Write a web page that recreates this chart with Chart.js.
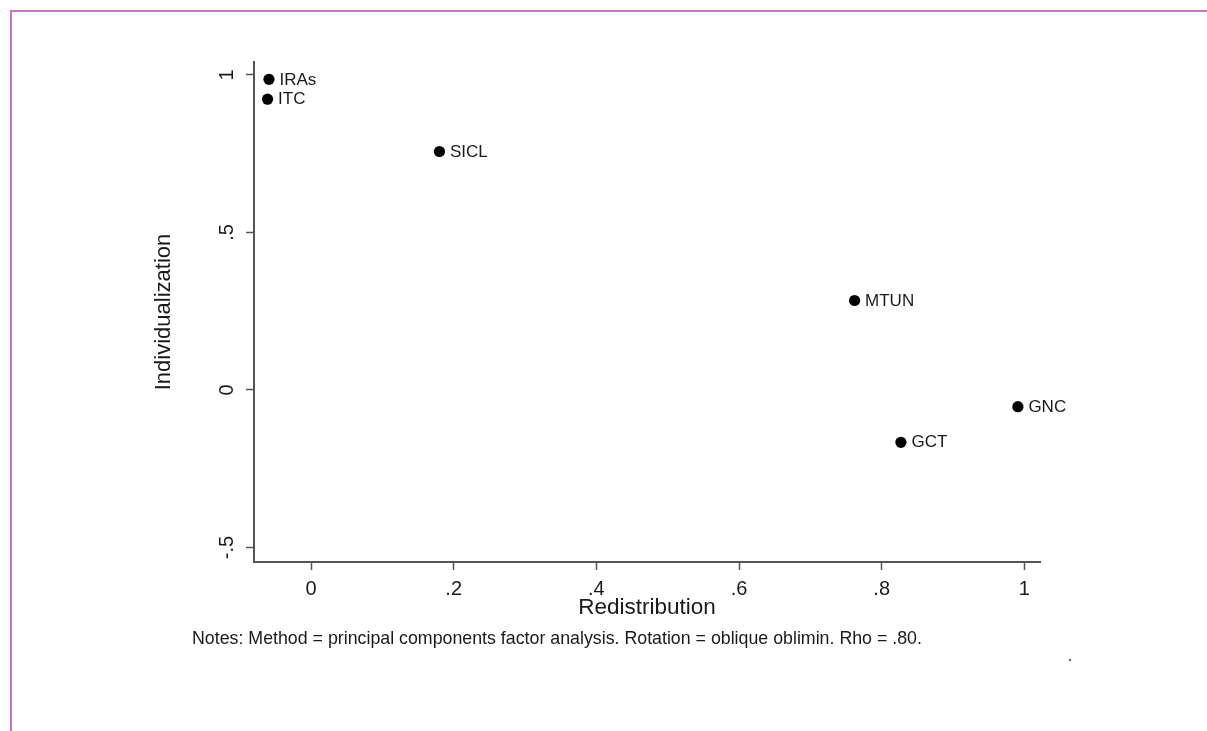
<!DOCTYPE html>
<html>
<head>
<meta charset="utf-8">
<script src="https://cdn.jsdelivr.net/npm/chart.js@4.4.1/dist/chart.umd.min.js"></script>
<style>
  html, body { margin:0; padding:0; background:#fff; }
  #wrap { position:relative; width:1207px; height:731px; overflow:hidden; background:#fff; }
  #frame { position:absolute; left:10px; top:10px; width:1300px; height:800px;
           border-top:2px solid #c272c8; border-left:2px solid #c272c8; box-sizing:border-box; }
  canvas { position:absolute; left:0; top:0; }
  #notes { position:absolute; left:192px; top:627px; font-family:"Liberation Sans", Arial, sans-serif;
           font-size:17.8px; color:#1a1a1a; white-space:nowrap; line-height:22px; }
  #dot { position:absolute; left:1069px; top:659px; width:2px; height:2px; background:#333; border-radius:1px; }
</style>
</head>
<body>
<div id="wrap">
  <div id="frame"></div>
  <canvas id="c" width="1207" height="731"></canvas>
  <div id="notes">Notes: Method = principal components factor analysis. Rotation = oblique oblimin. Rho = .80.</div>
  <div id="dot"></div>
</div>
<script>
// ---- data ----
const programs = ['IRAs', 'ITC', 'SICL', 'MTUN', 'GNC', 'GCT'];
const redistribution = [-0.059, -0.061, 0.180, 0.762, 0.991, 0.827];
const individualization = [0.986, 0.923, 0.757, 0.284, -0.053, -0.166];
const xTickValues = [0, 0.2, 0.4, 0.6, 0.8, 1];
const xTickLabels = ['0', '.2', '.4', '.6', '.8', '1'];
const yTickValues = [-0.5, 0, 0.5, 1];
const yTickLabels = ['-.5', '0', '.5', '1'];

const FONT = '"Liberation Sans", Arial, sans-serif';
const AXIS = '#555555';
const TXT = '#1a1a1a';

const points = redistribution.map((x, i) => ({ x: x, y: individualization[i] }));

const pointLabels = {
  id: 'pointLabels',
  afterDatasetsDraw(chart) {
    const ctx = chart.ctx;
    const meta = chart.getDatasetMeta(0);
    ctx.save();
    ctx.font = '17px ' + FONT;
    ctx.fillStyle = TXT;
    ctx.textAlign = 'left';
    ctx.textBaseline = 'middle';
    meta.data.forEach((el, i) => {
      ctx.fillText(programs[i], el.x + 10.5, el.y + 0.5);
    });
    ctx.restore();
  }
};

new Chart(document.getElementById('c'), {
  type: 'scatter',
  data: {
    datasets: [{
      data: points,
      backgroundColor: '#000',
      borderColor: '#000',
      pointRadius: 5.6,
      pointHoverRadius: 5.6,
      borderWidth: 0
    }]
  },
  options: {
    responsive: false,
    animation: false,
    events: [],
    layout: { padding: { left: 0, top: 62, right: 167, bottom: 109 } },
    plugins: { legend: { display: false }, tooltip: { enabled: false } },
    scales: {
      x: {
        type: 'linear',
        min: -0.08,
        max: 1.022,
        afterFit(scale) { scale.height = 60; },
        afterBuildTicks(scale) { scale.ticks = xTickValues.map(v => ({ value: v })); },
        border: { display: true, color: AXIS, width: 2 },
        grid: { display: true, drawOnChartArea: false, drawTicks: true, tickLength: 8, color: AXIS, tickWidth: 1.5 },
        ticks: {
          padding: 7,
          color: TXT,
          font: { family: FONT, size: 20 },
          maxRotation: 0,
          minRotation: 0,
          callback(value) {
            const i = xTickValues.findIndex(v => Math.abs(v - value) < 1e-9);
            return i >= 0 ? xTickLabels[i] : '';
          }
        },
        title: {
          display: true,
          text: 'Redistribution',
          color: TXT,
          font: { family: FONT, size: 22.5 },
          padding: { top: 0, bottom: 0.5 }
        }
      },
      y: {
        type: 'linear',
        min: -0.546,
        max: 1.041,
        afterFit(scale) { scale.width = 254; },
        afterBuildTicks(scale) { scale.ticks = yTickValues.map(v => ({ value: v })); },
        border: { display: true, color: AXIS, width: 2 },
        grid: { display: true, drawOnChartArea: false, drawTicks: true, tickLength: 8, color: AXIS, tickWidth: 1.5 },
        ticks: {
          padding: 7,
          color: TXT,
          crossAlign: 'center',
          minRotation: 90,
          maxRotation: 90,
          font: { family: FONT, size: 20 },
          callback(value) {
            const i = yTickValues.findIndex(v => Math.abs(v - value) < 1e-9);
            return i >= 0 ? yTickLabels[i] : '';
          }
        },
        title: {
          display: true,
          text: 'Individualization',
          color: TXT,
          font: { family: FONT, size: 22 },
          padding: { top: 150.3, bottom: 0 }
        }
      }
    }
  },
  plugins: [pointLabels]
});
</script>
</body>
</html>
